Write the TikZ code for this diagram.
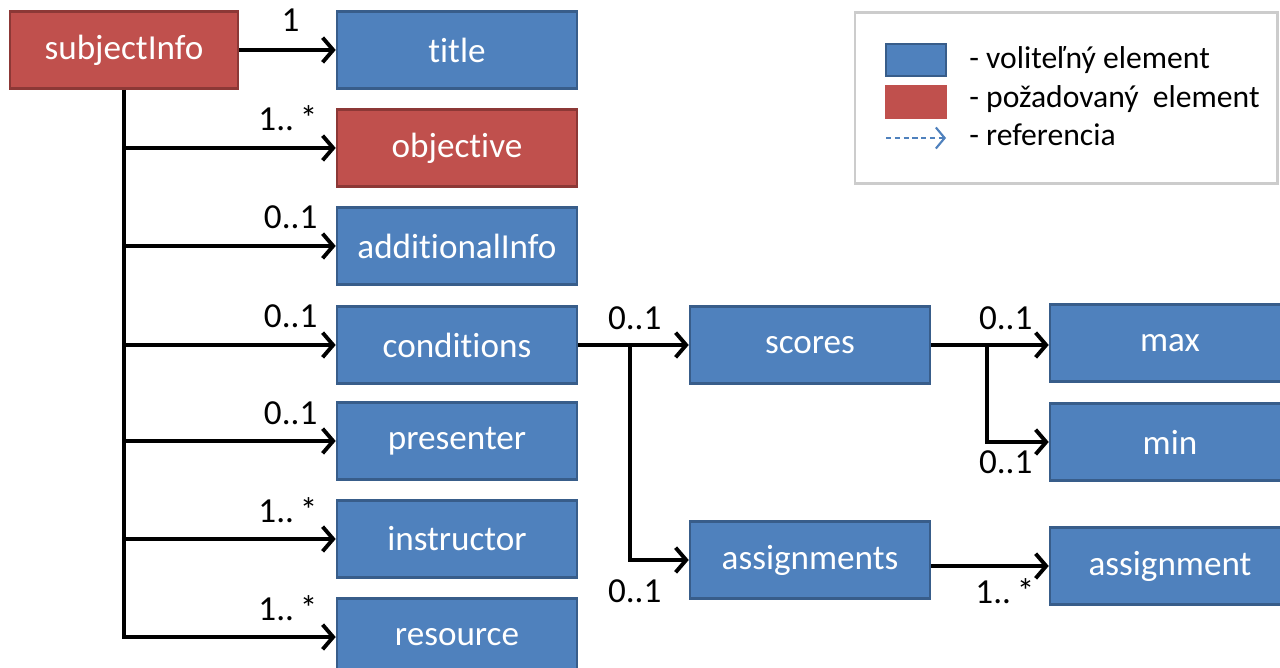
\documentclass[tikz,border=0pt]{standalone}
\usepackage{fontspec}
\setmainfont[Ligatures=NoCommon]{Carlito}
\usetikzlibrary{arrows.meta}
\definecolor{optblue}{HTML}{4F81BD}
\definecolor{optedge}{HTML}{385D8A}
\definecolor{reqred}{HTML}{C0504D}
\definecolor{reqedge}{HTML}{8C3836}
\tikzset{
    elem/.style={draw=optedge, fill=optblue, line width=1.5pt, text=white, inner sep=0pt,
        minimum width=4.8cm, minimum height=1.54cm, font=\fontsize{20}{23}\selectfont},
    reqelem/.style={elem, draw=reqedge, fill=reqred},
    link/.style={line width=2.2pt, -{Straight Barb[length=6pt, width=14pt]}},
    card/.style={inner sep=0pt, font=\fontsize{20}{23}\selectfont},
    legendtxt/.style={inner sep=0pt, anchor=west, font=\fontsize{18}{21}\selectfont}
}
\begin{document}
\begin{tikzpicture}[x=0.02cm, y=-0.02cm]
        \useasboundingbox (0,0) rectangle (1280,668);

        \node[reqelem, minimum width=4.56cm] (subjectInfo) at (124,50) {subjectInfo};
        \node[elem] (title) at (457,50) {title};
        \node[reqelem] (objective) at (457,148) {objective};
        \node[elem] (additionalInfo) at (457,246) {additionalInfo};
        \node[elem] (conditions) at (457,345) {conditions};
        \node[elem] (presenter) at (457,441) {presenter};
        \node[elem] (instructor) at (457,539) {instructor};
        \node[elem] (resource) at (457,637) {resource};
        \node[elem] (scores) at (810,345) {scores};
        \node[elem] (assignments) at (810,560) {assignments};
        \node[elem] (max) at (1170,343) {max};
        \node[elem] (min) at (1170,442) {min};
        \node[elem] (assignment) at (1170,566) {assignment};

        \draw[link] (subjectInfo.east) -- (title.west);
        \node[card, anchor=base east] (lbl-title) at ([shift={(-36,-18)}]title.west) {1};

        \draw[link] (subjectInfo.south) |- (resource.west);
        \node[card, anchor=base east] (lbl-resource) at ([shift={(-18,-17)}]resource.west) {1..\,*};
        \foreach \n/\c in {objective/{1..\,*}, additionalInfo/0..1, conditions/0..1, presenter/0..1, instructor/{1..\,*}} {
            \draw[link] (subjectInfo.south |- \n.west) -- (\n.west);
            \node[card, anchor=base east] (lbl-\n) at ([shift={(-18,-17)}]\n.west) {\c};
        }

        \coordinate (condsplit) at (630,345);
        \draw[link] (conditions.east) -- (scores.west);
        \draw[link] (condsplit) |- (assignments.west);
        \node[card, anchor=base east] (lbl-scores) at ([shift={(-27,-15)}]scores.west) {0..1};
        \node[card, anchor=base east] (lbl-assignments) at ([shift={(-27,42)}]assignments.west) {0..1};

        \coordinate (scoresplit) at (987,345);
        \draw[link] (scores.east) -- (scores.east -| max.west);
        \draw[link] (scoresplit) |- (min.west);
        \node[card, anchor=base east] (lbl-max) at ([shift={(-16,-13)}]max.west) {0..1};
        \node[card, anchor=base east] (lbl-min) at ([shift={(-16,31)}]min.west) {0..1};

        \draw[link] (assignments.east |- assignment.west) -- (assignment.west);
        \node[card, anchor=base east] (lbl-assignment) at ([shift={(-14,37)}]assignment.west) {1..\,*};

        \node[draw=black!20, line width=1.2pt, minimum width=8.46cm, minimum height=3.42cm] (legend) at (1066,98) {};
        \node[elem, minimum width=1.2cm, minimum height=0.64cm] (optkey) at (916,60) {};
        \node[reqelem, draw=reqred, minimum width=1.2cm, minimum height=0.64cm] (reqkey) at (916,102) {};
        \coordinate (refstart) at (886,138);
        \coordinate (refend) at (946,138);
        \draw[optblue, line width=1.2pt, dash pattern=on 3pt off 2pt, -{Straight Barb[length=5pt, width=12pt]}] (refstart) -- (refend);
        \node[legendtxt] (optlbl) at (969,60) {- voliteľný element};
        \node[legendtxt] (reqlbl) at (969,99) {- požadovaný\ \ element};
        \node[legendtxt] (reflbl) at (969,135) {- referencia};
    \end{tikzpicture}
\end{document}
